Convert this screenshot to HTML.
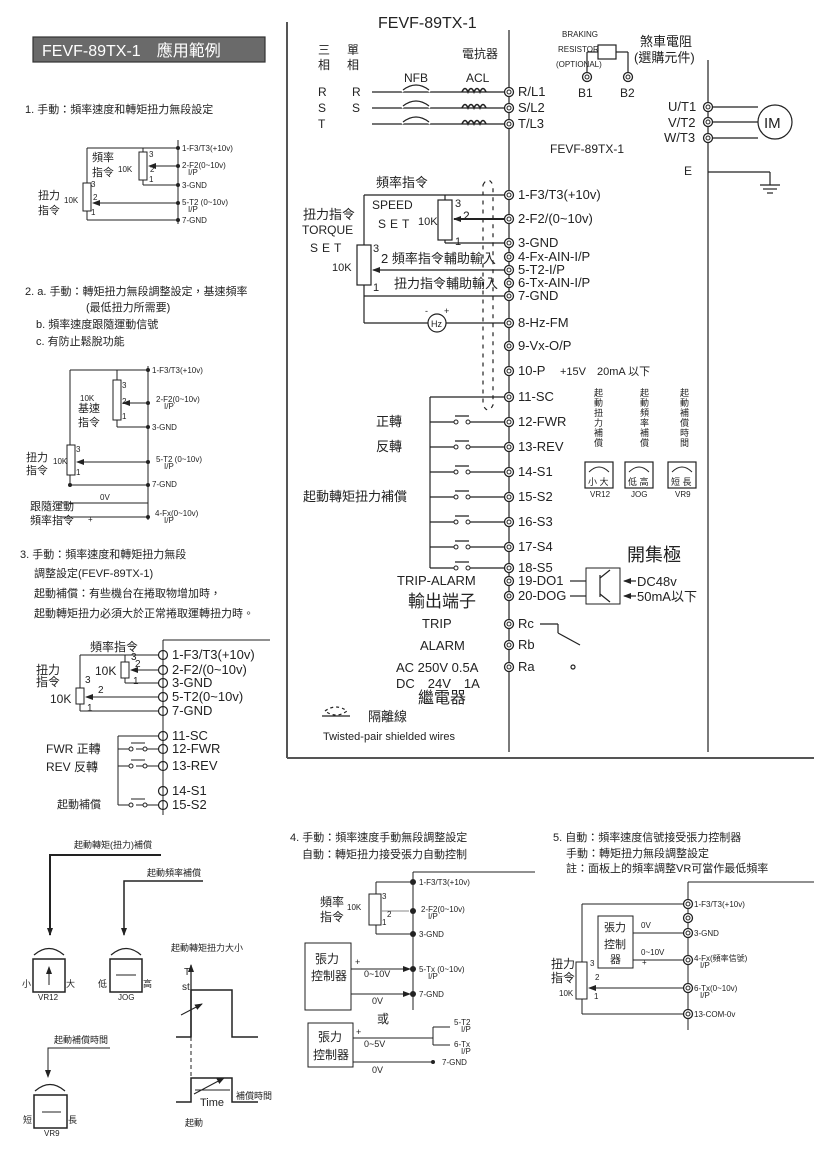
<!DOCTYPE html>
<html><head><meta charset="utf-8"><style>
body{margin:0;background:#fff}
svg{display:block}
text{font-family:"Liberation Sans","Noto Sans CJK TC",sans-serif;fill:#222}
</style></head><body>
<svg width="814" height="1152" viewBox="0 0 814 1152" xmlns="http://www.w3.org/2000/svg">
<defs>
<marker id="ar" markerWidth="8" markerHeight="8" refX="7" refY="4" orient="auto" markerUnits="userSpaceOnUse"><path d="M0,1 L8,4 L0,7z" fill="#222"/></marker>
<g id="tm"><circle r="4.5" fill="#fff" stroke="#222" stroke-width="1.3"/><circle r="2" fill="none" stroke="#222" stroke-width="1"/></g>
<g id="to"><circle r="4.5" fill="#fff" stroke="#222" stroke-width="1.2"/><line x1="0" y1="-4.5" x2="0" y2="4.5" stroke="#222"/></g>
</defs>
<rect width="814" height="1152" fill="#fff"/>
<g stroke="#222" fill="none" stroke-width="1.2">
<rect x="33" y="37" width="232" height="25" fill="#6a6a6a" stroke="#333"/>
</g>
<text x="42" y="56" font-size="16" fill="#fff" style="fill:#fff">FEVF-89TX-1　應用範例</text>

<g stroke="#555" stroke-width="2" fill="none">
<line x1="287" y1="22" x2="287" y2="758"/><line x1="287" y1="758" x2="814" y2="758"/>
</g>

<g stroke="#222" fill="none" stroke-width="1.2">
<line x1="509" y1="30" x2="509" y2="752"/>
<line x1="708" y1="60" x2="708" y2="752"/>
<line x1="372" y1="92" x2="505" y2="92"/><line x1="372" y1="108" x2="505" y2="108"/><line x1="372" y1="124" x2="505" y2="124"/>
<path d="M402,92 Q416,80 430,92 M402,108 Q416,96 430,108 M402,124 Q416,112 430,124" stroke-width="1.4" stroke="#fff"/>
<path d="M403,90 Q416,80 429,90 M403,106 Q416,96 429,106 M403,122 Q416,112 429,122"/>
<path d="M462,92 q3,-7 6,0 q3,-7 6,0 q3,-7 6,0 q3,-7 6,0 M462,108 q3,-7 6,0 q3,-7 6,0 q3,-7 6,0 q3,-7 6,0 M462,124 q3,-7 6,0 q3,-7 6,0 q3,-7 6,0 q3,-7 6,0" stroke-width="1.6"/>
<line x1="587" y1="77" x2="587" y2="52"/><line x1="587" y1="52" x2="598" y2="52"/><rect x="598" y="45" width="18" height="14"/><line x1="616" y1="52" x2="628" y2="52"/><line x1="628" y1="52" x2="628" y2="77"/>
<line x1="708" y1="107" x2="758" y2="107"/><line x1="708" y1="122" x2="758" y2="122"/><line x1="708" y1="138" x2="758" y2="138"/>
<circle cx="775" cy="122" r="17" fill="#fff"/>
<line x1="708" y1="172" x2="770" y2="172"/><line x1="770" y1="172" x2="770" y2="185"/>
<line x1="760" y1="185" x2="780" y2="185"/><line x1="763" y1="189" x2="777" y2="189"/><line x1="767" y1="193" x2="773" y2="193"/>
<line x1="364" y1="195" x2="509" y2="195"/>
<line x1="364" y1="195" x2="364" y2="245"/><line x1="364" y1="285" x2="364" y2="296"/>
<line x1="445" y1="195" x2="445" y2="200"/><rect x="438" y="200" width="14" height="40" fill="#fff"/>
<line x1="445" y1="240" x2="445" y2="243"/><line x1="445" y1="243" x2="509" y2="243"/>
<line x1="509" y1="219" x2="454" y2="219" marker-end="url(#ar)" stroke-width="2"/>
<rect x="357" y="245" width="14" height="40" fill="#fff"/>
<line x1="509" y1="270" x2="373" y2="270" marker-end="url(#ar)"/>
<line x1="364" y1="296" x2="509" y2="296"/>
<line x1="364" y1="296" x2="364" y2="323"/><line x1="364" y1="323" x2="428" y2="323"/><line x1="446" y1="323" x2="509" y2="323"/>
<circle cx="437" cy="323" r="9" fill="#fff"/>
<path d="M483,185 Q488,175 493,185 L493,405 Q488,415 483,405 Z" stroke-dasharray="4,5"/>
<line x1="430" y1="397" x2="430" y2="568"/><line x1="430" y1="397" x2="509" y2="397"/>
</g>
<g stroke="#222" fill="none" stroke-width="1.2">
<path d="M430,422 h24 M470,422 h39 M455,416 h14"/>
<path d="M430,447 h24 M470,447 h39 M455,441 h14"/>
<path d="M430,472 h24 M470,472 h39 M455,466 h14"/>
<path d="M430,497 h24 M470,497 h39 M455,491 h14"/>
<path d="M430,522 h24 M470,522 h39 M455,516 h14"/>
<path d="M430,547 h24 M470,547 h39 M455,541 h14"/>
<path d="M430,568 h24 M470,568 h39 M455,562 h14"/>
</g>
<g fill="#fff" stroke="#222" stroke-width="1">
<circle cx="456" cy="422" r="2"/><circle cx="468" cy="422" r="2"/>
<circle cx="456" cy="447" r="2"/><circle cx="468" cy="447" r="2"/>
<circle cx="456" cy="472" r="2"/><circle cx="468" cy="472" r="2"/>
<circle cx="456" cy="497" r="2"/><circle cx="468" cy="497" r="2"/>
<circle cx="456" cy="522" r="2"/><circle cx="468" cy="522" r="2"/>
<circle cx="456" cy="547" r="2"/><circle cx="468" cy="547" r="2"/>
<circle cx="456" cy="568" r="2"/><circle cx="468" cy="568" r="2"/>
</g>
<g stroke="#222" fill="none" stroke-width="1.2">
<rect x="586" y="568" width="34" height="36" stroke-width="1"/>
<line x1="570" y1="581" x2="586" y2="581"/><line x1="570" y1="596" x2="586" y2="596"/>
<line x1="600" y1="575" x2="600" y2="597"/><line x1="600" y1="578" x2="610" y2="570"/><line x1="600" y1="594" x2="610" y2="602"/>
<line x1="636" y1="581" x2="624" y2="581" marker-end="url(#ar)"/><line x1="636" y1="596" x2="624" y2="596" marker-end="url(#ar)"/>
<line x1="540" y1="624" x2="558" y2="624"/><line x1="558" y1="624" x2="558" y2="633"/><line x1="558" y1="633" x2="580" y2="645"/>
<circle cx="573" cy="667" r="2"/>
<path d="M325,711 Q336,703 347,711 Q336,719 325,711" stroke-dasharray="3,3"/><line x1="322" y1="716" x2="350" y2="716"/>
<rect x="585" y="462" width="28" height="26"/><rect x="625" y="462" width="28" height="26"/><rect x="668" y="462" width="28" height="26"/>
<path d="M589,472 Q599,462 609,472 M629,472 Q639,462 649,472 M672,472 Q682,462 692,472" stroke-width="0.9"/>
</g>
<g>
<use href="#tm" x="509" y="92"/><use href="#tm" x="509" y="108"/><use href="#tm" x="509" y="124"/>
<use href="#tm" x="587" y="77"/><use href="#tm" x="628" y="77"/>
<use href="#tm" x="708" y="107"/><use href="#tm" x="708" y="122"/><use href="#tm" x="708" y="138"/>
<use href="#tm" x="509" y="195"/><use href="#tm" x="509" y="219"/><use href="#tm" x="509" y="243"/><use href="#tm" x="509" y="257"/><use href="#tm" x="509" y="270"/><use href="#tm" x="509" y="283"/><use href="#tm" x="509" y="296"/>
<use href="#tm" x="509" y="323"/><use href="#tm" x="509" y="346"/><use href="#tm" x="509" y="371"/><use href="#tm" x="509" y="397"/>
<use href="#tm" x="509" y="422"/><use href="#tm" x="509" y="447"/><use href="#tm" x="509" y="472"/><use href="#tm" x="509" y="497"/><use href="#tm" x="509" y="522"/><use href="#tm" x="509" y="547"/><use href="#tm" x="509" y="568"/><use href="#tm" x="509" y="581"/><use href="#tm" x="509" y="596"/>
<use href="#tm" x="509" y="624"/><use href="#tm" x="509" y="645"/><use href="#tm" x="509" y="667"/>
</g>
<text x="378" y="28" font-size="16">FEVF-89TX-1</text>
<text x="318" y="54" font-size="12">三</text><text x="347" y="54" font-size="12">單</text>
<text x="318" y="69" font-size="12">相</text><text x="347" y="69" font-size="12">相</text>
<text x="462" y="58" font-size="12">電抗器</text>
<text x="404" y="82" font-size="12">NFB</text><text x="466" y="82" font-size="12">ACL</text>
<text x="562" y="37" font-size="8">BRAKING</text><text x="558" y="52" font-size="8">RESISTOR</text><text x="556" y="67" font-size="8">(OPTIONAL)</text>
<text x="640" y="46" font-size="13">煞車電阻</text><text x="634" y="62" font-size="13">(選購元件)</text>
<text x="578" y="97" font-size="12">B1</text><text x="620" y="97" font-size="12">B2</text>
<text x="318" y="96" font-size="12">R</text><text x="318" y="112" font-size="12">S</text><text x="318" y="128" font-size="12">T</text>
<text x="352" y="96" font-size="12">R</text><text x="352" y="112" font-size="12">S</text>
<text x="518" y="96" font-size="13">R/L1</text><text x="518" y="112" font-size="13">S/L2</text><text x="518" y="128" font-size="13">T/L3</text>
<text x="668" y="111" font-size="13">U/T1</text><text x="668" y="127" font-size="13">V/T2</text><text x="664" y="142" font-size="13">W/T3</text>
<text x="764" y="128" font-size="15">IM</text>
<text x="550" y="153" font-size="12">FEVF-89TX-1</text>
<text x="684" y="175" font-size="12">E</text>
<g font-size="13">
<text x="518" y="199">1-F3/T3(+10v)</text><text x="518" y="223">2-F2/(0~10v)</text><text x="518" y="247">3-GND</text>
<text x="518" y="261">4-Fx-AIN-I/P</text><text x="518" y="274">5-T2-I/P</text><text x="518" y="287">6-Tx-AIN-I/P</text><text x="518" y="300">7-GND</text>
<text x="518" y="327">8-Hz-FM</text><text x="518" y="350">9-Vx-O/P</text><text x="518" y="375">10-P</text>
<text x="518" y="401">11-SC</text><text x="518" y="426">12-FWR</text><text x="518" y="451">13-REV</text><text x="518" y="476">14-S1</text><text x="518" y="501">15-S2</text><text x="518" y="526">16-S3</text><text x="518" y="551">17-S4</text><text x="518" y="572">18-S5</text><text x="518" y="585">19-DO1</text><text x="518" y="600">20-DOG</text>
<text x="518" y="628">Rc</text><text x="518" y="649">Rb</text><text x="518" y="671">Ra</text>
</g>
<text x="560" y="375" font-size="11">+15V　20mA 以下</text>
<text x="376" y="187" font-size="13">頻率指令</text>
<text x="372" y="209" font-size="12">SPEED</text><text x="378" y="228" font-size="12" letter-spacing="4">SET</text>
<text x="418" y="225" font-size="11">10K</text>
<text x="455" y="207" font-size="11">3</text><text x="463" y="220" font-size="12">2</text><text x="455" y="245" font-size="11">1</text>
<text x="303" y="219" font-size="13">扭力指令</text><text x="302" y="234" font-size="12">TORQUE</text><text x="310" y="252" font-size="12" letter-spacing="4">SET</text>
<text x="332" y="271" font-size="11">10K</text>
<text x="373" y="252" font-size="11">3</text><text x="373" y="291" font-size="11">1</text>
<text x="381" y="263" font-size="13">2 頻率指令輔助輸入</text>
<text x="394" y="288" font-size="13">扭力指令輔助輸入</text>
<text x="431" y="327" font-size="9">Hz</text><text x="425" y="314" font-size="9">-</text><text x="444" y="314" font-size="9">+</text>
<text x="376" y="426" font-size="13">正轉</text><text x="376" y="451" font-size="13">反轉</text>
<text x="303" y="501" font-size="13">起動轉矩扭力補償</text>
<g font-size="9">
<text x="594" y="396">起</text><text x="594" y="406">動</text><text x="594" y="416">扭</text><text x="594" y="426">力</text><text x="594" y="436">補</text><text x="594" y="446">償</text>
<text x="640" y="396">起</text><text x="640" y="406">動</text><text x="640" y="416">頻</text><text x="640" y="426">率</text><text x="640" y="436">補</text><text x="640" y="446">償</text>
<text x="680" y="396">起</text><text x="680" y="406">動</text><text x="680" y="416">補</text><text x="680" y="426">償</text><text x="680" y="436">時</text><text x="680" y="446">間</text>
<text x="588" y="485">小 大</text><text x="628" y="485">低 高</text><text x="671" y="485">短 長</text>
<text x="590" y="497" font-size="8">VR12</text><text x="631" y="497" font-size="8">JOG</text><text x="675" y="497" font-size="8">VR9</text>
</g>
<text x="627" y="561" font-size="18">開集極</text>
<text x="637" y="586" font-size="13">DC48v</text><text x="637" y="601" font-size="13">50mA以下</text>
<text x="397" y="585" font-size="13">TRIP-ALARM</text>
<text x="408" y="607" font-size="17">輸出端子</text>
<text x="422" y="628" font-size="13">TRIP</text><text x="420" y="650" font-size="13">ALARM</text>
<text x="396" y="672" font-size="13">AC 250V 0.5A</text><text x="396" y="688" font-size="13">DC　24V　1A</text>
<text x="418" y="703" font-size="16">繼電器</text>
<text x="368" y="721" font-size="13">隔離線</text>
<text x="323" y="740" font-size="11">Twisted-pair shielded wires</text>

<text x="25" y="113" font-size="11">1. 手動：頻率速度和轉矩扭力無段設定</text>
<g stroke="#222" fill="none" stroke-width="1">
<line x1="178" y1="140" x2="178" y2="224"/>
<line x1="87" y1="148" x2="178" y2="148"/><line x1="87" y1="148" x2="87" y2="183"/>
<line x1="143" y1="148" x2="143" y2="152"/><rect x="139" y="152" width="8" height="28"/><line x1="143" y1="180" x2="143" y2="185"/><line x1="143" y1="185" x2="178" y2="185"/>
<line x1="178" y1="166" x2="149" y2="166" marker-end="url(#ar)"/>
<rect x="83" y="183" width="8" height="28"/><line x1="87" y1="211" x2="87" y2="220"/><line x1="87" y1="220" x2="178" y2="220"/>
<line x1="178" y1="203" x2="93" y2="203" marker-end="url(#ar)"/>
</g>
<g fill="#222"><circle cx="178" cy="148" r="2"/><circle cx="178" cy="166" r="2"/><circle cx="178" cy="185" r="2"/><circle cx="178" cy="203" r="2"/><circle cx="178" cy="220" r="2"/></g>
<g font-size="8"><text x="182" y="151">1-F3/T3(+10v)</text><text x="182" y="168">2-F2(0~10v)</text><text x="188" y="175">I/P</text><text x="182" y="188">3-GND</text><text x="182" y="205">5-T2 (0~10v)</text><text x="188" y="212">I/P</text><text x="182" y="223">7-GND</text>
<text x="149" y="157">3</text><text x="150" y="172">2</text><text x="149" y="182">1</text><text x="118" y="172">10K</text><text x="91" y="187">3</text><text x="93" y="200">2</text><text x="91" y="215">1</text><text x="64" y="203">10K</text></g>
<text x="92" y="161" font-size="11">頻率</text><text x="92" y="176" font-size="11">指令</text>
<text x="38" y="199" font-size="11">扭力</text><text x="38" y="214" font-size="11">指令</text>

<text x="25" y="295" font-size="11">2. a. 手動：轉矩扭力無段調整設定，基速頻率</text>
<text x="86" y="311" font-size="11">(最低扭力所需要)</text>
<text x="36" y="328" font-size="11">b. 頻率速度跟隨運動信號</text>
<text x="36" y="345" font-size="11">c. 有防止鬆脫功能</text>
<g stroke="#222" fill="none" stroke-width="1">
<line x1="148" y1="366" x2="148" y2="520"/>
<line x1="70" y1="370" x2="148" y2="370"/><line x1="70" y1="370" x2="70" y2="445"/><line x1="70" y1="475" x2="70" y2="485"/><line x1="70" y1="485" x2="148" y2="485"/>
<line x1="117" y1="370" x2="117" y2="380"/><rect x="113" y="380" width="8" height="40"/><line x1="117" y1="420" x2="117" y2="427"/><line x1="117" y1="427" x2="148" y2="427"/>
<line x1="148" y1="403" x2="123" y2="403" marker-end="url(#ar)"/>
<rect x="67" y="445" width="8" height="30"/>
<line x1="148" y1="462" x2="77" y2="462" marker-end="url(#ar)"/>
<line x1="60" y1="503" x2="148" y2="503"/><line x1="60" y1="517" x2="148" y2="517"/>
</g>
<g fill="#222"><circle cx="148" cy="370" r="2"/><circle cx="148" cy="403" r="2"/><circle cx="148" cy="427" r="2"/><circle cx="148" cy="462" r="2"/><circle cx="148" cy="485" r="2"/><circle cx="148" cy="517" r="2"/><circle cx="70" cy="485" r="2"/></g>
<g font-size="8"><text x="152" y="373">1-F3/T3(+10v)</text><text x="156" y="402">2-F2(0~10v)</text><text x="164" y="409">I/P</text><text x="152" y="430">3-GND</text><text x="156" y="462">5-T2 (0~10v)</text><text x="164" y="469">I/P</text><text x="152" y="487">7-GND</text><text x="155" y="516">4-Fx(0~10v)</text><text x="164" y="523">I/P</text>
<text x="122" y="388">3</text><text x="122" y="404">2</text><text x="122" y="419">1</text><text x="80" y="401">10K</text><text x="76" y="452">3</text><text x="76" y="475">1</text><text x="53" y="464">10K</text><text x="100" y="500">0V</text><text x="88" y="522">+</text></g>
<text x="78" y="412" font-size="11">基速</text><text x="78" y="426" font-size="11">指令</text>
<text x="26" y="461" font-size="11">扭力</text><text x="26" y="474" font-size="11">指令</text>
<text x="30" y="510" font-size="11">跟隨運動</text><text x="30" y="524" font-size="11">頻率指令</text>

<text x="20" y="558" font-size="11">3. 手動：頻率速度和轉矩扭力無段</text>
<text x="34" y="577" font-size="11">調整設定(FEVF-89TX-1)</text>
<text x="34" y="597" font-size="11">起動補償：有些機台在捲取物增加時，</text>
<text x="34" y="617" font-size="11">起動轉矩扭力必須大於正常捲取運轉扭力時。</text>
<g stroke="#222" fill="none" stroke-width="1">
<line x1="163" y1="640" x2="270" y2="640"/><line x1="163" y1="640" x2="163" y2="815"/>
<line x1="80" y1="655" x2="163" y2="655"/><line x1="80" y1="655" x2="80" y2="688"/><rect x="76" y="688" width="8" height="16"/><line x1="80" y1="704" x2="80" y2="711"/><line x1="80" y1="711" x2="163" y2="711"/>
<line x1="125" y1="655" x2="125" y2="662"/><rect x="121" y="662" width="8" height="16"/><line x1="125" y1="678" x2="125" y2="683"/><line x1="125" y1="683" x2="163" y2="683"/>
<line x1="163" y1="670" x2="131" y2="670" marker-end="url(#ar)"/><line x1="163" y1="697" x2="86" y2="697" marker-end="url(#ar)"/>
<line x1="118" y1="736" x2="163" y2="736"/><line x1="118" y1="736" x2="118" y2="805"/>
<path d="M118,749 h11 M136,749 h27 M131,743 h14 M118,766 h11 M136,766 h27 M131,760 h14 M118,805 h11 M136,805 h27 M131,799 h14"/>
</g>
<g><use href="#to" x="163" y="655"/><use href="#to" x="163" y="670"/><use href="#to" x="163" y="683"/><use href="#to" x="163" y="697"/><use href="#to" x="163" y="711"/><use href="#to" x="163" y="736"/><use href="#to" x="163" y="749"/><use href="#to" x="163" y="766"/><use href="#to" x="163" y="791"/><use href="#to" x="163" y="805"/></g>
<g fill="#fff" stroke="#222"><circle cx="131" cy="749" r="2"/><circle cx="145" cy="749" r="2"/><circle cx="131" cy="766" r="2"/><circle cx="145" cy="766" r="2"/><circle cx="131" cy="805" r="2"/><circle cx="145" cy="805" r="2"/></g>
<g font-size="13"><text x="172" y="659">1-F3/T3(+10v)</text><text x="172" y="674">2-F2/(0~10v)</text><text x="172" y="687">3-GND</text><text x="172" y="701">5-T2(0~10v)</text><text x="172" y="715">7-GND</text><text x="172" y="740">11-SC</text><text x="172" y="753">12-FWR</text><text x="172" y="770">13-REV</text><text x="172" y="795">14-S1</text><text x="172" y="809">15-S2</text></g>
<text x="90" y="651" font-size="12">頻率指令</text>
<text x="95" y="675" font-size="12">10K</text><text x="50" y="703" font-size="12">10K</text>
<g font-size="10"><text x="131" y="660">3</text><text x="135" y="667">2</text><text x="133" y="684">1</text><text x="85" y="683">3</text><text x="98" y="693">2</text><text x="87" y="711">1</text></g>
<text x="36" y="674" font-size="12">扭力</text><text x="36" y="686" font-size="12">指令</text>
<text x="46" y="753" font-size="12">FWR 正轉</text><text x="46" y="771" font-size="12">REV  反轉</text><text x="57" y="808" font-size="11">起動補償</text>

<g stroke="#222" fill="none">
<path d="M161,855 H50 V935" stroke-width="2" marker-end="url(#ar)"/>
<path d="M203,881 H124 V935" stroke-width="1.5" marker-end="url(#ar)"/>
<path d="M110,1048 H48 V1077" stroke-width="1" marker-end="url(#ar)"/>
<rect x="33" y="959" width="32" height="33" stroke-width="1.5"/><rect x="110" y="959" width="32" height="33" stroke-width="1.5"/><rect x="34" y="1095" width="33" height="33" stroke-width="1.5"/>
<path d="M34,955 Q49,942 64,955 M111,955 Q126,942 141,955 M35,1091 Q50,1078 65,1091" stroke-width="1.2"/>
<line x1="49" y1="985" x2="49" y2="967" marker-end="url(#ar)"/><line x1="136" y1="975" x2="116" y2="975"/><line x1="61" y1="1112" x2="42" y2="1112"/>
<line x1="191" y1="1037" x2="191" y2="965" marker-end="url(#ar)" stroke-width="1.3"/>
<path d="M176,1037 H191 V990 H232 V1037 H258" stroke-width="1.5"/>
<line x1="191" y1="1037" x2="191" y2="1078" stroke-dasharray="4,3"/>
<path d="M176,1102 H191 V1078 H232 V1102 H258" stroke-width="1.5"/>
<line x1="181" y1="1015" x2="202" y2="1004" marker-end="url(#ar)"/><line x1="194" y1="1094" x2="224" y2="1078" marker-end="url(#ar)"/>
<line x1="195" y1="1090" x2="230" y2="1090"/>
</g>
<text x="74" y="848" font-size="9">起動轉矩(扭力)補償</text>
<text x="147" y="876" font-size="9">起動頻率補償</text>
<text x="171" y="951" font-size="9">起動轉矩扭力大小</text>
<text x="184" y="975" font-size="10">T</text><text x="182" y="990" font-size="10">st</text>
<text x="22" y="987" font-size="9">小</text><text x="66" y="987" font-size="9">大</text><text x="38" y="1000" font-size="8">VR12</text>
<text x="98" y="987" font-size="9">低</text><text x="143" y="987" font-size="9">高</text><text x="118" y="1000" font-size="8">JOG</text>
<text x="54" y="1043" font-size="9">起動補償時間</text>
<text x="23" y="1123" font-size="9">短</text><text x="68" y="1123" font-size="9">長</text><text x="44" y="1136" font-size="8">VR9</text>
<text x="200" y="1106" font-size="11">Time</text><text x="236" y="1099" font-size="9">補償時間</text><text x="185" y="1126" font-size="9">起動</text>

<text x="290" y="841" font-size="11">4. 手動：頻率速度手動無段調整設定</text>
<text x="302" y="858" font-size="11">自動：轉矩扭力接受張力自動控制</text>
<g stroke="#222" fill="none" stroke-width="1">
<line x1="413" y1="872" x2="535" y2="872"/><line x1="413" y1="872" x2="413" y2="1010"/>
<line x1="376" y1="882" x2="413" y2="882"/><line x1="376" y1="882" x2="376" y2="894"/><rect x="369" y="894" width="12" height="31"/><line x1="376" y1="925" x2="376" y2="934"/><line x1="376" y1="934" x2="413" y2="934"/>
<line x1="409" y1="911" x2="382" y2="911" stroke="#888"/>
<rect x="305" y="943" width="46" height="67"/>
<line x1="351" y1="969" x2="410" y2="969" marker-end="url(#ar)"/><line x1="351" y1="994" x2="410" y2="994" marker-end="url(#ar)"/>
<rect x="308" y="1023" width="45" height="44"/>
<line x1="353" y1="1038" x2="433" y2="1038"/><line x1="433" y1="1027" x2="433" y2="1045"/><line x1="433" y1="1027" x2="450" y2="1027"/><line x1="433" y1="1045" x2="450" y2="1045"/>
<line x1="353" y1="1062" x2="433" y2="1062"/>
</g>
<g fill="#222"><circle cx="413" cy="882" r="3"/><circle cx="413" cy="911" r="3"/><circle cx="413" cy="934" r="3"/><circle cx="413" cy="969" r="3"/><circle cx="413" cy="994" r="3"/><circle cx="433" cy="1062" r="2"/></g>
<g font-size="8"><text x="419" y="885">1-F3/T3(+10v)</text><text x="421" y="912">2-F2(0~10v)</text><text x="428" y="919">I/P</text><text x="419" y="937">3-GND</text><text x="419" y="972">5-Tx (0~10v)</text><text x="428" y="979">I/P</text><text x="419" y="997">7-GND</text>
<text x="382" y="899">3</text><text x="387" y="917">2</text><text x="382" y="925">1</text><text x="347" y="910">10K</text>
<text x="454" y="1025">5-T2</text><text x="461" y="1032">I/P</text><text x="454" y="1047">6-Tx</text><text x="461" y="1054">I/P</text><text x="442" y="1065">7-GND</text></g>
<text x="320" y="906" font-size="12">頻率</text><text x="320" y="921" font-size="12">指令</text>
<text x="315" y="963" font-size="12">張力</text><text x="311" y="980" font-size="12">控制器</text>
<text x="355" y="965" font-size="9">+</text><text x="364" y="977" font-size="9">0~10V</text><text x="372" y="1004" font-size="9">0V</text>
<text x="377" y="1023" font-size="12">或</text>
<text x="318" y="1041" font-size="12">張力</text><text x="313" y="1059" font-size="12">控制器</text>
<text x="356" y="1035" font-size="9">+</text><text x="364" y="1047" font-size="9">0~5V</text><text x="372" y="1073" font-size="9">0V</text>

<text x="553" y="841" font-size="11">5. 自動：頻率速度信號接受張力控制器</text>
<text x="566" y="857" font-size="11">手動：轉矩扭力無段調整設定</text>
<text x="566" y="872" font-size="11">註：面板上的頻率調整VR可當作最低頻率</text>
<g stroke="#222" fill="none" stroke-width="1">
<line x1="688" y1="882" x2="814" y2="882"/><line x1="688" y1="882" x2="688" y2="1030"/>
<line x1="582" y1="904" x2="688" y2="904"/><line x1="582" y1="904" x2="582" y2="962"/><rect x="576" y="962" width="11" height="37"/><line x1="582" y1="999" x2="582" y2="1014"/><line x1="582" y1="1014" x2="688" y2="1014"/>
<rect x="598" y="916" width="35" height="52"/>
<line x1="633" y1="933" x2="688" y2="933"/><line x1="633" y1="960" x2="688" y2="960"/>
<line x1="688" y1="988" x2="589" y2="988" marker-end="url(#ar)"/>
</g>
<g><use href="#tm" x="688" y="904"/><use href="#tm" x="688" y="918"/><use href="#tm" x="688" y="933"/><use href="#tm" x="688" y="960"/><use href="#tm" x="688" y="988"/><use href="#tm" x="688" y="1014"/></g>
<g font-size="8"><text x="694" y="907">1-F3/T3(+10v)</text><text x="694" y="936">3-GND</text><text x="694" y="961">4-Fx(頻率信號)</text><text x="700" y="968">I/P</text><text x="694" y="991">6-Tx(0~10v)</text><text x="700" y="998">I/P</text><text x="694" y="1017">13-COM-0v</text>
<text x="641" y="928">0V</text><text x="641" y="955">0~10V</text><text x="642" y="965">+</text><text x="590" y="966">3</text><text x="595" y="980">2</text><text x="594" y="999">1</text><text x="559" y="996">10K</text></g>
<text x="604" y="931" font-size="11">張力</text><text x="604" y="948" font-size="11">控制</text><text x="610" y="963" font-size="11">器</text>
<text x="551" y="968" font-size="12">扭力</text><text x="551" y="982" font-size="12">指令</text>
</svg>
</body></html>
